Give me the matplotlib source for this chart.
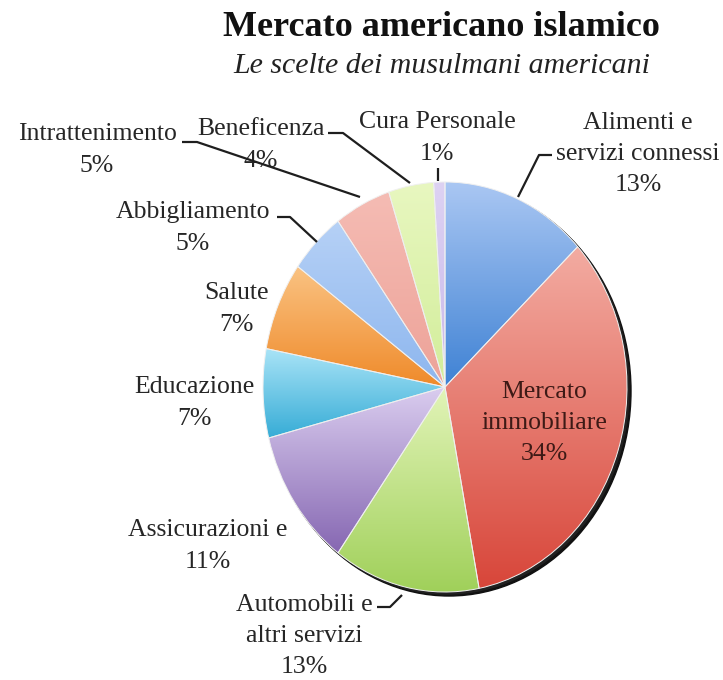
import numpy as np
import matplotlib
matplotlib.use("Agg")
import matplotlib.pyplot as plt
from matplotlib.colors import to_rgb
from matplotlib.patches import Ellipse

# data, clockwise from the top
categories = ["Alimenti e\nservizi connessi", "Mercato\nimmobiliare",
              "Automobili e\naltri servizi", "Assicurazioni e", "Educazione",
              "Salute", "Abbigliamento", "Intrattenimento", "Beneficenza",
              "Cura Personale"]
shares = [13, 34, 13, 11, 7, 7, 5, 5, 4, 1]

# gradient colours (top, bottom) for each slice
top_colors = ["#aac7f3", "#f3aca2", "#e2f4b8", "#dacdef", "#aae4f7",
              "#fac383", "#b6d1f6", "#f5bcb4", "#e8f7c0", "#ddd2f3"]
bottom_colors = ["#3f82d4", "#d8463a", "#a0d05a", "#8667b2", "#36acd6",
                 "#ef8a2a", "#8db6ee", "#eda298", "#d2ed9a", "#c9b9ea"]

# pie geometry in pixels (slightly taller than wide, as in the picture)
CX, CY, RX, RY = 445, 387, 182, 205
W, H = 723, 680


def X(px):
    return (px - CX) / RX


def Y(py):
    return (CY - py) / RY


plt.rcParams["font.family"] = ["Liberation Serif", "DejaVu Serif"]

fig = plt.figure(figsize=(W / 100, H / 100), dpi=100)
ax = fig.add_axes([0, 0, 1, 1])

# shadow behind the pie
ax.add_patch(Ellipse((X(CX + 4), Y(CY + 4)), 2.0, 2.0, color="#111111", zorder=1))
ax.add_patch(Ellipse((X(CX + 2), Y(CY + 2)), 2.0, 2.0, color="#222222", zorder=1.1))

wedges, _ = ax.pie(shares, startangle=90, counterclock=False, radius=1,
                   colors=top_colors,
                   wedgeprops=dict(edgecolor="#f0f0f0", linewidth=0.7))

# vertical gradient inside each slice
for w, c0, c1 in zip(wedges, top_colors, bottom_colors):
    bb = w.get_path().get_extents()
    t = np.linspace(0, 1, 256)[:, None]
    grad = (1 - t) * np.array(to_rgb(c0)) + t * np.array(to_rgb(c1))
    grad = grad[:, None, :].repeat(2, axis=1)
    im = ax.imshow(grad, extent=(bb.x0, bb.x1, bb.y0, bb.y1),
                   origin="upper", aspect="auto", zorder=2.5,
                   interpolation="bilinear")
    im.set_clip_path(w)
    w.set_facecolor("none")
    w.set_zorder(3)

ax.set_aspect("auto")
ax.set_xlim(X(0), X(W))
ax.set_ylim(Y(H), Y(0))
ax.axis("off")

# labels: text centre in pixels
label_pos = [(638, 154), (544, 423), (304, 636), (208, 546), (194, 403),
             (236, 309), (193, 228), (97, 150), (261, 145), (437, 138)]
text_color = "#262626"
for name, val, (px, py) in zip(categories, shares, label_pos):
    col = "#3d1a16" if val == 34 else text_color
    ax.text(X(px), Y(py), f"{name}\n{val}%", ha="center", va="center",
            fontsize=18.5, color=col, linespacing=1.55, zorder=5)

# leader lines (pixel points)
leaders = [
    [(552, 155), (539, 155), (518, 197)],
    [(377, 607), (390, 607), (402, 595)],
    [(277, 217), (290, 217), (317, 242)],
    [(182, 142), (197, 142), (360, 197)],
    [(328, 133), (343, 133), (410, 183)],
    [(438, 168), (438, 181)],
]
for pts in leaders:
    xs = [X(p[0]) for p in pts]
    ys = [Y(p[1]) for p in pts]
    ax.plot(xs, ys, color="#1e1e1e", lw=1.6, zorder=6, solid_capstyle="butt")

ax.text(X(441), Y(28), "Mercato americano islamico", ha="center", va="center",
        fontsize=26, fontweight="bold", color="#111111")
ax.text(X(442), Y(66), "Le scelte dei musulmani americani", ha="center",
        va="center", fontsize=21.5, fontstyle="italic", color="#222222")

fig.savefig("out.png", dpi=100)
